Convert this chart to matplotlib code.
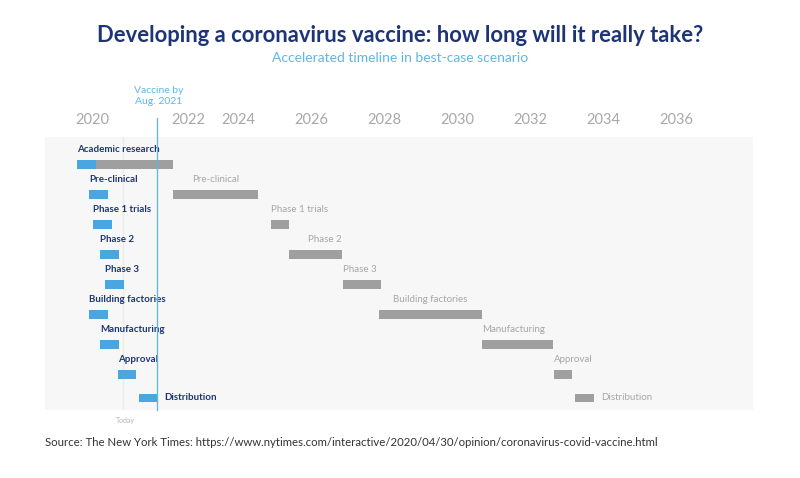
import matplotlib.pyplot as plt
import numpy as np
from matplotlib.transforms import ScaledTranslation

plt.rcParams['font.family'] = ['Lato', 'DejaVu Sans']

# data (years)
stages = ["Academic research", "Pre-clinical", "Phase 1 trials", "Phase 2", "Phase 3",
          "Building factories", "Manufacturing", "Approval", "Distribution"]
fast_start = [2019.59, 2019.92, 2020.03, 2020.22, 2020.36, 2019.92, 2020.22, 2020.71, 2021.29]
fast_end = [2020.11, 2020.44, 2020.55, 2020.74, 2020.88, 2020.44, 2020.74, 2021.21, 2021.78]
normal_start = [2020.11, 2022.22, 2024.90, 2025.40, 2026.88, 2027.86, 2030.68, 2032.66, 2033.23]
normal_end = [2022.22, 2024.55, 2025.40, 2026.85, 2027.92, 2030.68, 2032.63, 2033.15, 2033.75]
year_ticks = [2020, 2022, 2024, 2026, 2028, 2030, 2032, 2034, 2036]
vaccine_date = 2021.78
today = 2020.85

# how the grey labels sit on their bars
grey_align = [None, 'center', 'left', 'right', 'left', 'center', 'left', 'left', 'inline']

navy = '#1d3577'
blue = '#4aa6e0'
grey = '#9f9f9f'
light_blue = '#5fb6e6'

fig = plt.figure(figsize=(8, 4.78), dpi=100)
ax = fig.add_axes([45 / 800, 68 / 478, 708 / 800, 273 / 478])
ax.set_facecolor('#f7f7f7')

n = len(stages)
rows = np.arange(n, dtype=float)
rows[-1] -= 0.23  # last row has its label inline
bar_h = 0.28
lab_off = 0.5

fast_w = np.array(fast_end) - np.array(fast_start)
norm_w = np.array(normal_end) - np.array(normal_start)
ax.barh(rows, norm_w, left=normal_start, height=bar_h, color=grey, zorder=2)
ax.barh(rows, fast_w, left=fast_start, height=bar_h, color=blue, zorder=3)

for i, name in enumerate(stages):
    if i == n - 1:
        ax.text(fast_end[i] + 0.2, rows[i], name, color=navy, fontsize=7, fontweight='bold',
                ha='left', va='center')
    else:
        ax.text(fast_start[i], rows[i] - lab_off, name, color=navy, fontsize=7,
                fontweight='bold', ha='left', va='center')
    al = grey_align[i]
    if al is None:
        continue
    if al == 'inline':
        ax.text(normal_end[i] + 0.2, rows[i], name, color='#a6a6a6', fontsize=7,
                ha='left', va='center')
    else:
        x = {'left': normal_start[i], 'right': normal_end[i],
             'center': (normal_start[i] + normal_end[i]) / 2}[al]
        ax.text(x, rows[i] - lab_off, name, color='#a6a6a6', fontsize=7,
                ha=al, va='center')

ax.axvline(today, color='#ebebeb', lw=1, zorder=1)
ax.axvline(vaccine_date, ymin=0, ymax=1.07, color=light_blue, lw=0.9, zorder=4, clip_on=False)
ax.text(vaccine_date + 0.05, 1.15, "Vaccine by\nAug. 2021", transform=ax.get_xaxis_transform(),
        ha='center', va='center', color=light_blue, fontsize=7.5, linespacing=1.2)
ax.text(today + 0.05, -0.04, "Today", transform=ax.get_xaxis_transform(),
        ha='center', va='center', color='#b5b5b5', fontsize=5)

ax.set_xlim(2018.71, 2038.11)
ax.set_ylim(8.18, -0.92)
ax.set_yticks([])
ax.xaxis.tick_top()
ax.set_xticks(year_ticks)
ax.set_xticklabels([str(y) for y in year_ticks])
ax.tick_params(axis='x', length=0, pad=7, labelsize=10.5, labelcolor='#a8a8a8')
# the 2022 label sits right of the vaccine line in the original
lab = ax.get_xticklabels()[1]
lab.set_transform(lab.get_transform() + ScaledTranslation(0.23, 0, fig.dpi_scale_trans))
for s in ax.spines.values():
    s.set_visible(False)

fig.text(0.5, 1 - 36 / 478, "Developing a coronavirus vaccine: how long will it really take?",
         ha='center', va='center', color=navy, fontsize=15.8, fontweight='bold')
fig.text(0.5, 1 - 58 / 478, "Accelerated timeline in best-case scenario",
         ha='center', va='center', color=light_blue, fontsize=10)
fig.text(45 / 800, 1 - 443 / 478,
         "Source: The New York Times: https://www.nytimes.com/interactive/2020/04/30/opinion/coronavirus-covid-vaccine.html",
         ha='left', va='center', color='#333333', fontsize=8.2)

fig.savefig('out.png', dpi=100)
